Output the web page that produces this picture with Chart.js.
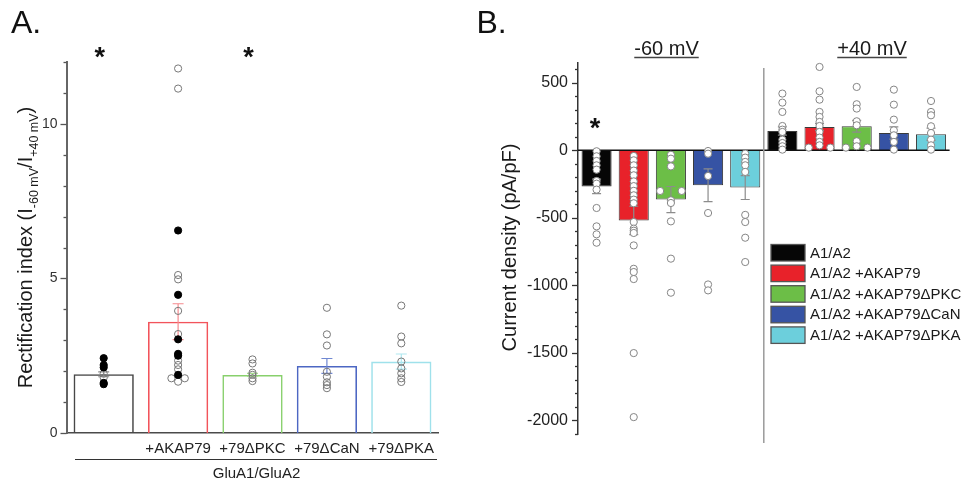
<!DOCTYPE html>
<html><head><meta charset="utf-8">
<script src="https://cdn.jsdelivr.net/npm/chart.js@4.4.1/dist/chart.umd.min.js"></script>
<style>
html,body{margin:0;padding:0;background:#fff;}
#wrap{position:relative;width:967px;height:485px;overflow:hidden;background:#fff;}
#ca{position:absolute;left:0;top:0;}
#cb{position:absolute;left:460px;top:0;}
</style></head><body>
<div id="wrap"><canvas id="ca" width="480" height="485"></canvas><canvas id="cb" width="507" height="485"></canvas></div>
<script>
// ---------------- Panel A data ----------------
const catsA = ['', '+AKAP79', '+79ΔPKC', '+79ΔCaN', '+79ΔPKA'];
const groupLabelA = 'GluA1/GluA2';
const meanA = [1.90, 3.60, 1.88, 2.17, 2.31];
const semA = [0.08, 0.58, 0.05, 0.24, 0.245];
const filledA = [[2.42, 2.20, 2.12, 1.62, 1.58], [6.55, 4.47, 3.03, 2.56, 2.50, 1.88], [], [], []];
const openA = [[1.92, 1.79], [11.79, 11.14, 5.11, 4.97, 3.95, 3.20, 2.34, 2.20, 2.06, 1.66], [2.38, 2.25, 1.95, 1.88, 1.77, 1.68], [4.05, 3.19, 2.83, 1.98, 1.82, 1.64, 1.55, 1.45], [4.12, 3.12, 2.90, 2.31, 2.09, 1.93, 1.77, 1.65]];
const openPairsA = [[1, 1.77]];
const starsA = [0, 2];
const yTicksA = [0, 5, 10];

// ---------------- Panel B data ----------------
const groupsB = ['-60 mV', '+40 mV'];
const seriesB = ['A1/A2', 'A1/A2 +AKAP79', 'A1/A2 +AKAP79ΔPKC', 'A1/A2 +AKAP79ΔCaN', 'A1/A2 +AKAP79ΔPKA'];
const meanNeg60 = [-267, -519, -365, -259, -276];
const semNeg60 = [54, 105, 97, 121, 88];
const meanPos40 = [143, 173, 178, 128, 119];
const semPos40 = [30, 25, 44, 45, 45];
const cellsNeg60 = [
  [-7, -44, -79, -111, -143, -227, -247, -291, -427, -563, -622, -684],
  [-42, -74, -111, -150, -185, -230, -265, -300, -333, -365, -392, -531, -580, -595, -612, -704, -877, -901, -953, -1501, -1975],
  [-33, -62, -119, -370, -390, -526, -802, -1054],
  [-5, -25, -190, -464, -993, -1037],
  [-25, -54, -86, -111, -160, -478, -531, -647, -827]
];
const cellsPos40 = [
  [420, 353, 284, 180, 153, 136, 79, 54, 30, 5],
  [617, 437, 375, 284, 247, 210, 180, 136, 94, 62, 37],
  [469, 341, 309, 215, 185, 67, 30],
  [449, 338, 227, 148, 111, 62, 5],
  [365, 284, 259, 178, 128, 79, 37, 5]
];
const pairsNeg60 = [[2, -301]];
const pairsPos40 = [[1, 20], [2, 20]];
const starsB = [0];
const yTicksB = [500, 0, -500, -1000, -1500, -2000];

// ---------------- helpers ----------------
const FONT = "'Liberation Sans', Arial, Helvetica, sans-serif";
Chart.defaults.font.family = FONT;

function pts(list, pairs, d, shift) {
  const out = [];
  list.forEach((vals, i) => vals.forEach(v => out.push({x: i + shift, y: v})));
  pairs.forEach(([i, v]) => { out.push({x: i + shift - d, y: v}); out.push({x: i + shift + d, y: v}); });
  return out;
}

function tickPlugin(majors, majorLen, minorLen, color, lw) {
  return { id: 'minorTicks', afterDraw(chart) {
    const s = chart.scales.y, ctx = chart.ctx;
    ctx.save(); ctx.strokeStyle = color; ctx.lineWidth = lw;
    s.ticks.forEach(t => {
      const y = Math.round(s.getPixelForValue(t.value)) + 0.5;
      const L = majors.includes(t.value) ? majorLen : minorLen;
      ctx.beginPath(); ctx.moveTo(s.right - L, y); ctx.lineTo(s.right, y); ctx.stroke();
    });
    ctx.restore();
  }};
}

function errPlugin(means, sems, colors, cap, lw, zeroLine) {
  return { id: 'errBars', afterDatasetDraw(chart, args) {
    if (args.index !== 0) return;
    const ys = chart.scales.y, ctx = chart.ctx, meta = args.meta;
    ctx.save();
    if (zeroLine) {
      const y0 = ys.getPixelForValue(0);
      ctx.strokeStyle = '#111'; ctx.lineWidth = 1.6;
      ctx.beginPath(); ctx.moveTo(chart.chartArea.left, y0); ctx.lineTo(chart.chartArea.right, y0); ctx.stroke();
    }
    ctx.lineWidth = lw;
    meta.data.forEach((el, i) => {
      const x = el.x;
      const yt = ys.getPixelForValue(means[i] + sems[i]);
      const yb = ys.getPixelForValue(means[i] - sems[i]);
      ctx.strokeStyle = colors[i % colors.length];
      ctx.beginPath();
      ctx.moveTo(x, yt); ctx.lineTo(x, yb);
      ctx.moveTo(x - cap, yt); ctx.lineTo(x + cap, yt);
      ctx.moveTo(x - cap, yb); ctx.lineTo(x + cap, yb);
      ctx.stroke();
    });
    ctx.restore();
  }};
}

function star(ctx, x, yc) {
  ctx.save();
  ctx.font = 'bold 27px ' + FONT; ctx.fillStyle = '#111';
  ctx.textAlign = 'center'; ctx.textBaseline = 'alphabetic';
  ctx.fillText('*', x, yc + 15.5);
  ctx.restore();
}

// ---------------- Panel A ----------------
const colA = ['#474747', '#f2545b', '#88d06c', '#4d67c3', '#9fe1eb'];
const errColA = ['#8a8a8a', '#f58b8f', '#a6dc92', '#7088d2', '#b0e8f0'];

const annotA = { id: 'annotA', afterDraw(chart) {
  const ctx = chart.ctx, xs = chart.scales.xs;
  ctx.save();
  ctx.fillStyle = '#111';
  ctx.font = '32px ' + FONT; ctx.textBaseline = 'alphabetic'; ctx.textAlign = 'left';
  ctx.fillText('A.', 11, 33);
  starsA.forEach(i => star(ctx, xs.getPixelForValue(i) - 4, 50.5));
  const segs = [['Rectification index (I', 20, 0], ['-60 mV', 12.5, 6], ['/I', 20, 0], ['+40 mV', 12.5, 6], [')', 20, 0]];
  ctx.save();
  ctx.translate(31.5, 247.5); ctx.rotate(-Math.PI / 2);
  let total = 0;
  segs.forEach(s => { ctx.font = s[1] + 'px ' + FONT; total += ctx.measureText(s[0]).width; });
  let x = -total / 2;
  ctx.fillStyle = '#1a1a1a';
  segs.forEach(s => { ctx.font = s[1] + 'px ' + FONT; ctx.fillText(s[0], x, s[2]); x += ctx.measureText(s[0]).width; });
  ctx.restore();
  ctx.strokeStyle = '#333'; ctx.lineWidth = 1.2;
  ctx.beginPath(); ctx.moveTo(75, 459.5); ctx.lineTo(437, 459.5); ctx.stroke();
  ctx.font = '15px ' + FONT; ctx.textAlign = 'center'; ctx.textBaseline = 'middle'; ctx.fillStyle = '#222';
  ctx.fillText(groupLabelA, (chart.chartArea.left + chart.chartArea.right) / 2 + 4, 474);
  ctx.restore();
}};

new Chart(document.getElementById('ca'), {
  type: 'bar',
  data: { labels: catsA, datasets: [
    { type: 'bar', data: meanA, backgroundColor: 'rgba(255,255,255,0)', borderColor: colA, borderWidth: 1.6,
      grouped: false, barPercentage: 0.81, categoryPercentage: 1, order: 2, xAxisID: 'x', yAxisID: 'y' },
    { type: 'scatter', data: pts(openA, openPairsA, 0.09, 0), xAxisID: 'xs', yAxisID: 'y', order: 1, clip: false,
      pointRadius: 3.6, pointBackgroundColor: 'rgba(255,255,255,0)', pointBorderColor: '#777', pointBorderWidth: 1 },
    { type: 'scatter', data: pts(filledA, [], 0, 0), xAxisID: 'xs', yAxisID: 'y', order: 0, clip: false,
      pointRadius: 3.6, pointBackgroundColor: '#000', pointBorderColor: '#000', pointBorderWidth: 1 }
  ]},
  options: {
    responsive: false, animation: false, devicePixelRatio: 1,
    layout: { padding: { top: 62, right: 41.5, bottom: 0, left: 0 } },
    plugins: { legend: { display: false }, tooltip: { enabled: false } },
    scales: {
      x: { type: 'category', offset: true, grid: { display: false, drawTicks: false },
           border: { display: true, color: '#4a4a4a', width: 1.6 },
           ticks: { color: '#222', font: { size: 15 }, padding: 7, maxRotation: 0, autoSkip: false },
           afterFit(s) { s.height = 52; } },
      xs: { type: 'linear', display: false, offset: false, grid: { offset: false }, min: -0.5, max: 4.5 },
      y: { type: 'linear', min: 0, max: 12,
           ticks: { stepSize: 1, autoSkip: false, color: '#333', font: { size: 14 }, padding: 9,
                    callback: v => yTicksA.includes(v) ? String(v) : '' },
           grid: { display: false, drawTicks: false },
           border: { display: true, color: '#666', width: 2 },
           afterFit(s) { s.width = 66.5; } }
    }
  },
  plugins: [errPlugin(meanA, semA, errColA, 5.5, 1.2, false), tickPlugin(yTicksA, 6, 3, '#555', 1.3), annotA]
});

// ---------------- Panel B ----------------
const OFFB = 460;
const colB = ['#060606', '#e8222a', '#6cbe47', '#3653a4', '#6ccfdc'];
const labelsB = groupsB.flatMap(g => seriesB.map(s => g + ' ' + s));
const barsB = meanNeg60.concat(meanPos40);
const semB = semNeg60.concat(semPos40);
const ptsB = pts(cellsNeg60, pairsNeg60, 0.29, 0).concat(pts(cellsPos40, pairsPos40, 0.29, 5));

const annotB = { id: 'annotB', afterDraw(chart) {
  const ctx = chart.ctx, xs = chart.scales.xs;
  ctx.save();
  ctx.translate(-OFFB, 0);
  ctx.fillStyle = '#111';
  ctx.font = '32px ' + FONT; ctx.textBaseline = 'alphabetic'; ctx.textAlign = 'left';
  ctx.fillText('B.', 476.5, 33);
  ctx.font = '20px ' + FONT; ctx.textAlign = 'center'; ctx.fillStyle = '#1a1a1a';
  const hx = [666.5, 872];
  groupsB.forEach((g, i) => {
    ctx.fillText(g, hx[i], 55);
    const w = ctx.measureText(g).width;
    ctx.strokeStyle = '#444'; ctx.lineWidth = 1.3;
    ctx.beginPath(); ctx.moveTo(hx[i] - w / 2, 57.5); ctx.lineTo(hx[i] + w / 2, 57.5); ctx.stroke();
  });
  const sx = xs.getPixelForValue(4.5) + OFFB;
  ctx.strokeStyle = '#9a9a9a'; ctx.lineWidth = 1.5;
  ctx.beginPath(); ctx.moveTo(sx, 68); ctx.lineTo(sx, 443); ctx.stroke();
  ctx.save();
  ctx.translate(516, 247.5); ctx.rotate(-Math.PI / 2);
  ctx.font = '20px ' + FONT; ctx.textAlign = 'center'; ctx.textBaseline = 'alphabetic'; ctx.fillStyle = '#1a1a1a';
  ctx.fillText('Current density (pA/pF)', 0, 0);
  ctx.restore();
  starsB.forEach(i => star(ctx, xs.getPixelForValue(i) + OFFB - 1.5, 121.5));
  ctx.font = '15px ' + FONT; ctx.textAlign = 'left'; ctx.textBaseline = 'middle';
  seriesB.forEach((s, i) => {
    const top = 244.5 + i * 20.6;
    ctx.fillStyle = colB[i]; ctx.fillRect(771, top, 34, 16.5);
    ctx.strokeStyle = '#555'; ctx.lineWidth = 1.3; ctx.strokeRect(771, top, 34, 16.5);
    ctx.fillStyle = '#1a1a1a'; ctx.fillText(s, 810, top + 9);
  });
  ctx.restore();
}};

new Chart(document.getElementById('cb'), {
  type: 'bar',
  data: { labels: labelsB, datasets: [
    { type: 'bar', data: barsB, backgroundColor: colB.concat(colB), borderColor: '#3a3a3a', borderWidth: 1,
      grouped: false, barPercentage: 0.81, categoryPercentage: 1, order: 2, xAxisID: 'x', yAxisID: 'y' },
    { type: 'scatter', data: ptsB, xAxisID: 'xs', yAxisID: 'y', order: 1, clip: false,
      pointRadius: 3.6, pointBackgroundColor: '#fff', pointBorderColor: '#858585', pointBorderWidth: 1 }
  ]},
  options: {
    responsive: false, animation: false, devicePixelRatio: 1,
    layout: { padding: { top: 62.5, right: 17.4, bottom: 51, left: 0 } },
    plugins: { legend: { display: false }, tooltip: { enabled: false } },
    scales: {
      x: { type: 'category', offset: true, display: false },
      xs: { type: 'linear', display: false, offset: false, grid: { offset: false }, min: -0.5, max: 9.5 },
      y: { type: 'linear', min: -2100, max: 650,
           ticks: { stepSize: 100, includeBounds: false, autoSkip: false, color: '#222', font: { size: 16 }, padding: 10,
                    callback: v => yTicksB.includes(v) ? String(v) : '' },
           grid: { display: false, drawTicks: false },
           border: { display: true, color: '#333', width: 1.5 },
           afterFit(s) { s.width = 578 - OFFB; } }
    }
  },
  plugins: [errPlugin(barsB, semB, ['#8c8c8c'], 4.5, 1.2, true), tickPlugin(yTicksB, 6, 3, '#333', 1.3), annotB]
});
</script>
</body></html>
